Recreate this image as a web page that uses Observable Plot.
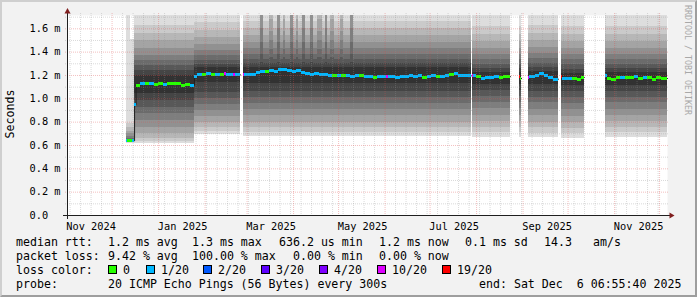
<!DOCTYPE html>
<html><head><meta charset="utf-8">
<script src="https://cdn.jsdelivr.net/npm/d3@7"></script>
<script src="https://cdn.jsdelivr.net/npm/@observablehq/plot@0.6"></script>
<style>
html,body{margin:0;padding:0;background:#f2f2f2;}
#wrap{position:relative;width:697px;height:297px;background:#f2f2f2;overflow:hidden;font-family:"DejaVu Sans Mono",monospace;}
#wrap svg{position:absolute;left:0;top:0;}
.t{position:absolute;white-space:pre;font-size:11.6px;line-height:14px;color:#000;}
.sw{position:absolute;width:7px;height:7px;border:1px solid #000;}
.rot{position:absolute;white-space:pre;line-height:1;}
#bevel{position:absolute;left:0;top:0;width:697px;height:297px;box-sizing:border-box;border-style:solid;border-width:2px;border-color:#cfcfcf #9e9e9e #9e9e9e #cfcfcf;pointer-events:none;}
</style></head>
<body><div id="wrap"></div>
<script>
// ---------- data ----------
const startTime = "2024-11-01T06:55:40Z";
const endTime   = "2025-12-06T06:55:40Z";
const yTicks = [0, 0.2, 0.4, 0.6, 0.8, 1.0, 1.2, 1.4, 1.6];
const yMinorTicks = [0.1, 0.3, 0.5, 0.7, 0.9, 1.1, 1.3, 1.5, 1.7];
const yTop = 1.714;

// loss legend
const lossKeys   = [0, 1, 2, 3, 4, 10, 19];
const lossLabels = ["0", "1/20", "2/20", "3/20", "4/20", "10/20", "19/20"];
const lossColors = ["#26ff00", "#00b8ff", "#0059ff", "#5e00ff", "#7e00ff", "#dd00ff", "#ff0000"];

// smoke blocks: 20 sorted pings (ms) -> low = ping1..10, high = ping11..20
const blockStart = ["2024-12-10T12:00Z","2024-12-13T06:00Z","2024-12-16T00:00Z","2025-01-24T22:00Z","2025-02-26T15:00Z","2025-07-29T06:00Z","2025-08-29T12:00Z","2025-09-04T15:00Z","2025-09-26T15:00Z","2025-10-25T23:00Z"];
const blockEnd   = ["2024-12-13T06:00Z","2024-12-16T00:00Z","2025-01-24T22:00Z","2025-02-24T15:00Z","2025-07-28T15:00Z","2025-08-23T15:00Z","2025-08-31T00:00Z","2025-09-24T15:00Z","2025-10-11T23:00Z","2025-12-06T06:55:40Z"];
const blockLow = [
  [0.620,0.625,0.630,0.633,0.636,0.638,0.640,0.640,0.640,0.640],
  [0.620,0.625,0.630,0.633,0.636,0.638,0.640,0.640,0.640,0.640],
  [0.617,0.634,0.660,0.703,0.754,0.814,0.874,0.925,0.985,1.045],
  [0.694,0.720,0.754,0.800,0.850,0.900,0.950,1.000,1.054,1.140],
  [0.680,0.710,0.750,0.800,0.860,0.910,0.960,1.010,1.060,1.130],
  [0.668,0.711,0.754,0.805,0.857,0.917,0.968,1.020,1.070,1.120],
  [0.668,0.711,0.754,0.805,0.857,0.917,0.968,1.020,1.070,1.120],
  [0.665,0.705,0.750,0.800,0.855,0.910,0.965,1.015,1.065,1.120],
  [0.660,0.700,0.745,0.795,0.850,0.905,0.960,1.010,1.060,1.115],
  [0.668,0.708,0.752,0.802,0.855,0.912,0.965,1.015,1.065,1.118]
];
const blockHigh = [
  [0.645,0.650,0.655,0.660,0.680,0.700,0.720,0.750,0.790,1.900],
  [0.645,0.650,0.655,0.660,0.680,0.700,0.720,0.750,0.790,1.510],
  [1.200,1.243,1.285,1.330,1.370,1.430,1.500,1.560,1.630,1.900],
  [1.270,1.294,1.328,1.371,1.414,1.465,1.525,1.585,1.654,1.900],
  [1.270,1.300,1.340,1.380,1.430,1.480,1.540,1.600,1.660,1.900],
  [1.225,1.260,1.294,1.337,1.380,1.430,1.490,1.550,1.620,1.900],
  [1.225,1.260,1.294,1.337,1.380,1.430,1.490,1.550,1.620,1.900],
  [1.230,1.265,1.300,1.345,1.390,1.440,1.500,1.560,1.630,1.900],
  [1.220,1.255,1.290,1.335,1.380,1.430,1.490,1.550,1.620,1.900],
  [1.222,1.258,1.292,1.338,1.382,1.432,1.492,1.552,1.622,1.900]
];
// high-variance streaks inside the Feb–Jul block
const streakStart = ["2025-03-09T23:00Z","2025-03-15T23:00Z","2025-03-21T07:00Z","2025-03-25T07:00Z","2025-03-29T23:00Z","2025-04-02T23:00Z","2025-04-06T23:00Z","2025-04-12T07:00Z","2025-04-16T23:00Z","2025-04-22T07:00Z","2025-04-25T15:00Z","2025-05-02T07:00Z","2025-05-08T23:00Z"];
const streakEnd   = ["2025-03-11T23:00Z","2025-03-18T15:00Z","2025-03-23T07:00Z","2025-03-26T15:00Z","2025-03-31T23:00Z","2025-04-04T07:00Z","2025-04-08T23:00Z","2025-04-14T07:00Z","2025-04-20T07:00Z","2025-04-23T15:00Z","2025-04-28T07:00Z","2025-05-04T07:00Z","2025-05-10T23:00Z"];
const streakKind  = [1,0,1,0,1,0,1,1,0,1,0,0,1];
const streakHighWeak   = [1.270,1.300,1.350,1.420,1.500,1.580,1.680,1.900,1.900,1.900];
const streakHighStrong = [1.270,1.310,1.380,1.480,1.600,1.750,1.900,1.900,1.900,1.900];

// median rtt (ms) with loss count; null marks a gap start / end
const medDate = [
 "2024-12-10T12:00Z","2024-12-11T12:00Z","2024-12-13T00:00Z","2024-12-14T12:00Z","2024-12-16T00:00Z",
 "2024-12-17","2024-12-20","2024-12-23","2024-12-26","2024-12-29","2025-01-01","2025-01-04","2025-01-07","2025-01-10","2025-01-13","2025-01-16","2025-01-19","2025-01-22",
 "2025-01-24T22:00Z","2025-01-27","2025-01-30","2025-02-02","2025-02-05","2025-02-08","2025-02-11","2025-02-14","2025-02-15T12:00Z","2025-02-17","2025-02-20","2025-02-21T12:00Z","2025-02-24T15:00Z",
 "2025-02-26T15:00Z","2025-02-27T12:00Z","2025-03-01","2025-03-04","2025-03-07","2025-03-10","2025-03-13","2025-03-16","2025-03-19","2025-03-22","2025-03-25","2025-03-28","2025-03-31",
 "2025-04-03","2025-04-06","2025-04-09","2025-04-12","2025-04-15","2025-04-18","2025-04-21","2025-04-24","2025-04-27","2025-04-30",
 "2025-05-03","2025-05-06","2025-05-09","2025-05-12","2025-05-15","2025-05-18","2025-05-21","2025-05-24","2025-05-27","2025-05-30",
 "2025-06-02","2025-06-03","2025-06-08","2025-06-11","2025-06-14","2025-06-17","2025-06-20","2025-06-23","2025-06-26","2025-06-29",
 "2025-07-02","2025-07-05","2025-07-08","2025-07-11","2025-07-14","2025-07-17","2025-07-20","2025-07-23","2025-07-26","2025-07-28T15:00Z",
 "2025-07-29T06:00Z","2025-07-30T06:00Z","2025-08-01","2025-08-04","2025-08-07","2025-08-10","2025-08-13","2025-08-16","2025-08-19","2025-08-22","2025-08-23T15:00Z",
 "2025-08-29T12:00Z","2025-08-30T06:00Z","2025-08-31T00:00Z",
 "2025-09-04T15:00Z","2025-09-05T12:00Z","2025-09-09","2025-09-12","2025-09-15","2025-09-18","2025-09-21","2025-09-24T15:00Z",
 "2025-09-26T15:00Z","2025-09-27T12:00Z","2025-10-01","2025-10-04","2025-10-07","2025-10-10","2025-10-11T23:00Z",
 "2025-10-25T23:00Z","2025-10-27","2025-10-30","2025-11-02","2025-11-05","2025-11-08","2025-11-11","2025-11-14","2025-11-17","2025-11-20","2025-11-23","2025-11-26","2025-11-29","2025-12-02","2025-12-06T06:55:40Z"
];
const medValue = [
 0.640,0.640,0.642,0.640,0.950,
 1.118,1.130,1.135,1.128,1.125,1.130,1.122,1.128,1.133,1.128,1.112,1.120,1.115,
 1.190,1.205,1.210,1.215,1.205,1.210,1.210,1.215,1.210,1.205,1.210,1.205,null,
 1.205,1.210,1.210,1.210,1.225,1.230,1.233,1.240,1.233,1.248,1.254,1.242,1.233,
 1.240,1.225,1.217,1.210,1.217,1.210,1.205,1.202,1.202,1.197,
 1.200,1.200,1.190,1.200,1.197,1.190,1.188,1.183,1.188,1.190,
 1.188,1.188,1.185,1.190,1.188,1.197,1.190,1.197,1.185,1.190,
 1.197,1.190,1.190,1.202,1.208,1.217,1.202,1.197,1.197,null,
 1.197,1.200,1.190,1.177,1.183,1.185,1.188,1.183,1.190,1.190,null,
 1.188,1.174,null,
 1.183,1.190,1.202,1.220,1.197,1.183,1.168,null,
 1.188,1.177,1.177,1.177,1.168,1.183,null,
 1.197,1.177,1.168,1.180,1.183,1.180,1.183,1.188,1.174,1.183,1.180,1.168,1.183,1.174,null
];
const medLoss = [
 1,0,0,1,1,
 0,1,0,1,0,0,1,0,0,0,0,0,1,
 1,1,0,1,0,1,0,10,1,1,10,1,null,
 10,1,1,1,1,1,0,1,1,1,1,1,1,
 1,1,1,1,1,1,1,1,0,1,
 0,1,1,1,0,1,1,0,1,1,
 10,1,1,1,1,1,1,1,0,1,
 1,0,1,1,0,1,1,1,1,null,
 10,1,0,1,1,1,1,0,0,0,null,
 19,0,null,
 10,1,1,1,1,1,1,null,
 19,1,1,0,0,0,null,
 1,0,0,0,1,0,0,1,0,1,0,0,0,0,null
];

// legend text
const statLabels = ["median rtt:", "packet loss:", "loss color:", "probe:"];
const rttStats  = ["1.2 ms avg", "1.3 ms max", "636.2 us min", "1.2 ms now", "0.1 ms sd", "14.3", "am/s"];
const lossStats = ["9.42 % avg", "100.00 % max", "0.00 % min", "0.00 % now"];
const probeText = "20 ICMP Echo Pings (56 Bytes) every 300s";
const endText   = "end: Sat Dec  6 06:55:40 2025";
const yLabel    = "Seconds";
const watermark = "RRDTOOL / TOBI OETIKER";

// ---------- build ----------
const W = 697, H = 297, mL = 67, mR = 30, mT = 15, mB = 82;
const t0 = new Date(startTime), t1 = new Date(endTime);
const grey = k => { const g = 50 + Math.floor(190 / 10 * (10 - k)); const h = g.toString(16).padStart(2, "0"); return "#" + h + h + h; };

const smokeRows = [];
function addBlock(s, e, low, high) {
  for (let k = 1; k <= 10; k++) smokeRows.push({x1: new Date(s), x2: new Date(e), y1: low[k - 1], y2: high[10 - k], fill: grey(k)});
}
blockStart.forEach((s, b) => addBlock(s, blockEnd[b], blockLow[b], blockHigh[b]));
streakStart.forEach((s, i) => addBlock(s, streakEnd[i], blockLow[4], streakKind[i] ? streakHighStrong : streakHighWeak));

const medRows = [], lineRows = [];
for (let i = 0; i < medDate.length - 1; i++) {
  if (medValue[i] == null) continue;
  const a = new Date(medDate[i]), b = new Date(medDate[i + 1]);
  medRows.push({x1: a, x2: b, v: medValue[i], c: lossColors[lossKeys.indexOf(medLoss[i])]});
  lineRows.push({d: a, v: medValue[i]}, {d: b, v: medValue[i]});
  if (medValue[i + 1] == null) lineRows.push({d: b, v: NaN});
}

const majorX = d3.utcMonth.range(d3.utcMonth.ceil(t0), t1);
const minorX = d3.utcSunday.range(t0, t1).filter(d => +d3.utcMonth.floor(d) !== +d);
const labelX = d3.utcMonth.every(2).range(d3.utcMonth.floor(t0), t1).map(d => d3.utcDay.offset(d, 16));

const gridMinor = {stroke: "#8f8f8f", strokeOpacity: 0.75, strokeWidth: 0.45, strokeDasharray: "1,1"};
const gridMajor = {stroke: "#de4f4f", strokeOpacity: 0.6, strokeWidth: 0.6, strokeDasharray: "1,1"};

const plot = Plot.plot({
  width: W, height: H, marginLeft: mL, marginRight: mR, marginTop: mT, marginBottom: mB,
  style: {background: "transparent", fontFamily: "DejaVu Sans Mono", fontSize: "10.3px", color: "#000", overflow: "visible"},
  x: {type: "utc", domain: [t0, t1], ticks: labelX, tickFormat: d3.utcFormat("%b %Y"), tickSize: 0, tickPadding: 7, label: null},
  y: {domain: [0, yTop], clamp: true, ticks: yTicks, tickFormat: d => d === 0 ? "0.0\u00a0\u00a0" : d.toFixed(1) + " m", tickSize: 0, tickPadding: 7, label: null},
  color: {type: "identity"},
  marks: [
    Plot.frame({fill: "#ffffff", stroke: "none"}),
    Plot.rect(smokeRows, {x1: "x1", x2: "x2", y1: "y1", y2: "y2", fill: "fill", shapeRendering: "crispEdges"}),
    Plot.line(lineRows, {x: "d", y: "v", stroke: "#202020", strokeWidth: 1}),
    Plot.ruleY(medRows, {y: "v", x1: "x1", x2: "x2", stroke: "c", strokeWidth: 3, shapeRendering: "crispEdges"}),
    Plot.ruleX(minorX, {...gridMinor, insetTop: -2, insetBottom: -2}),
    Plot.ruleY(yMinorTicks, {...gridMinor, insetLeft: -2, insetRight: -2}),
    Plot.ruleX(majorX, {...gridMajor, insetTop: -2, insetBottom: -2}),
    Plot.ruleY(yTicks.slice(1), {...gridMajor, insetLeft: -2, insetRight: -2}),
    Plot.ruleY([0], {stroke: "#1f1f1f", insetLeft: -4, insetRight: -4}),
    Plot.ruleX([t0], {stroke: "#1f1f1f", insetTop: -4, insetBottom: -4})
  ]
});
const wrap = document.getElementById("wrap");
wrap.appendChild(plot);

// axis arrows (frame decoration)
const svg = d3.select(plot);
const xR = W - mR, yB = H - mB;
svg.append("polygon").attr("points", `${xR + 2.5},${yB - 2.5} ${xR + 2.5},${yB + 3.5} ${xR + 7.5},${yB + 0.5}`).attr("fill", "#801f1f");
svg.append("polygon").attr("points", `${mL - 2.5},${mT - 1.5} ${mL + 3.5},${mT - 1.5} ${mL + 0.5},${mT - 7}`).attr("fill", "#801f1f");

// rotated labels
function rotText(txt, cx, cy, deg, size, color) {
  const d = document.createElement("div");
  d.className = "rot"; d.textContent = txt;
  d.style.left = cx + "px"; d.style.top = cy + "px";
  d.style.fontSize = size + "px"; d.style.color = color;
  d.style.transform = `translate(-50%,-50%) rotate(${deg}deg)`;
  wrap.appendChild(d);
}
rotText(yLabel, 11, 114, -90, 11.6, "#000");
rotText(watermark, 688, 60, 90, 8.3, "#a8a8a8");

// legend
function txt(s, x, yc) {
  const d = document.createElement("div");
  d.className = "t"; d.textContent = s;
  d.style.left = x + "px"; d.style.top = (yc - 7) + "px";
  wrap.appendChild(d);
}
const rowY = [241.5, 255.5, 269.5, 283.5];
statLabels.forEach((s, i) => txt(s, 16, rowY[i]));
const rttX = [108, 192, 279, 379, 465, 544, 593];
rttStats.forEach((s, i) => txt(s, rttX[i], rowY[0]));
const lossX = [108, 192, 293, 379];
lossStats.forEach((s, i) => txt(s, lossX[i], rowY[1]));
const swX = [108, 146, 203, 261, 319, 377, 442];
lossLabels.forEach((s, i) => {
  const sw = document.createElement("div");
  sw.className = "sw"; sw.style.left = swX[i] + "px"; sw.style.top = (rowY[2] - 4.5) + "px";
  sw.style.background = lossColors[i];
  wrap.appendChild(sw);
  txt(s, swX[i] + 15, rowY[2]);
});
txt(probeText, 108, rowY[3]);
txt(endText, 479, rowY[3]);

const bevel = document.createElement("div"); bevel.id = "bevel"; wrap.appendChild(bevel);
</script>
</body></html>
